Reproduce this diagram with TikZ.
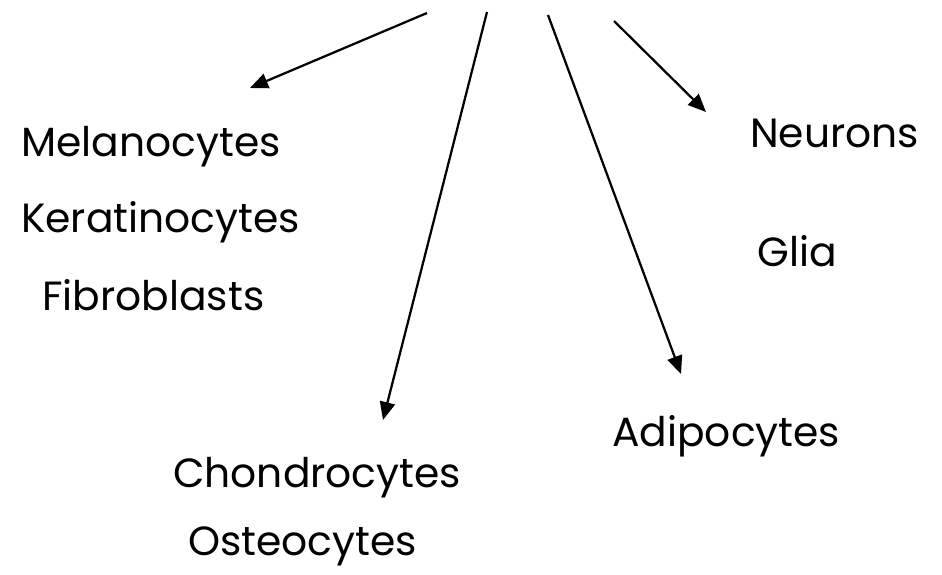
\documentclass[tikz,border=0pt]{standalone}
\usepackage{fontspec}
\setmainfont{Poppins}
\usetikzlibrary{arrows.meta}

\begin{document}
\begin{tikzpicture}[x=0.025cm,y=-0.025cm]
\useasboundingbox (0,0) rectangle (942,574);
\tikzset{cell/.style={font=\fontsize{29}{34}\selectfont, inner sep=0pt, anchor=base west},
         lineage/.style={line width=1.6pt, -{Triangle[length=0.45cm,width=0.38cm]}}}
\node [cell] (melano) at (21,156) {Melanocytes};
\node [cell] (kerat) at (21,232) {Keratinocytes};
\node [cell] (fibro) at (42,310) {Fibroblasts};
\node [cell] (chondro) at (173,487) {Chondrocytes};
\node [cell] (osteo) at (188,555) {Osteocytes};
\node [cell] (adipo) at (612,446) {Adipocytes};
\node [cell] (neuro) at (750,147) {Neurons};
\node [cell] (glia) at (757,266) {Glia};
% arrows from the top
\coordinate (s1) at (427,13);
\coordinate (e1) at (250,88);
\coordinate (s2) at (487,12);
\coordinate (e2) at (383,420);
\coordinate (s3) at (548,15);
\coordinate (e3) at (681,374);
\coordinate (s4) at (614,21);
\coordinate (e4) at (706,112);
\draw [lineage] (s1) -- (e1);
\draw [lineage] (s2) -- (e2);
\draw [lineage] (s3) -- (e3);
\draw [lineage] (s4) -- (e4);
\end{tikzpicture}
\end{document}
